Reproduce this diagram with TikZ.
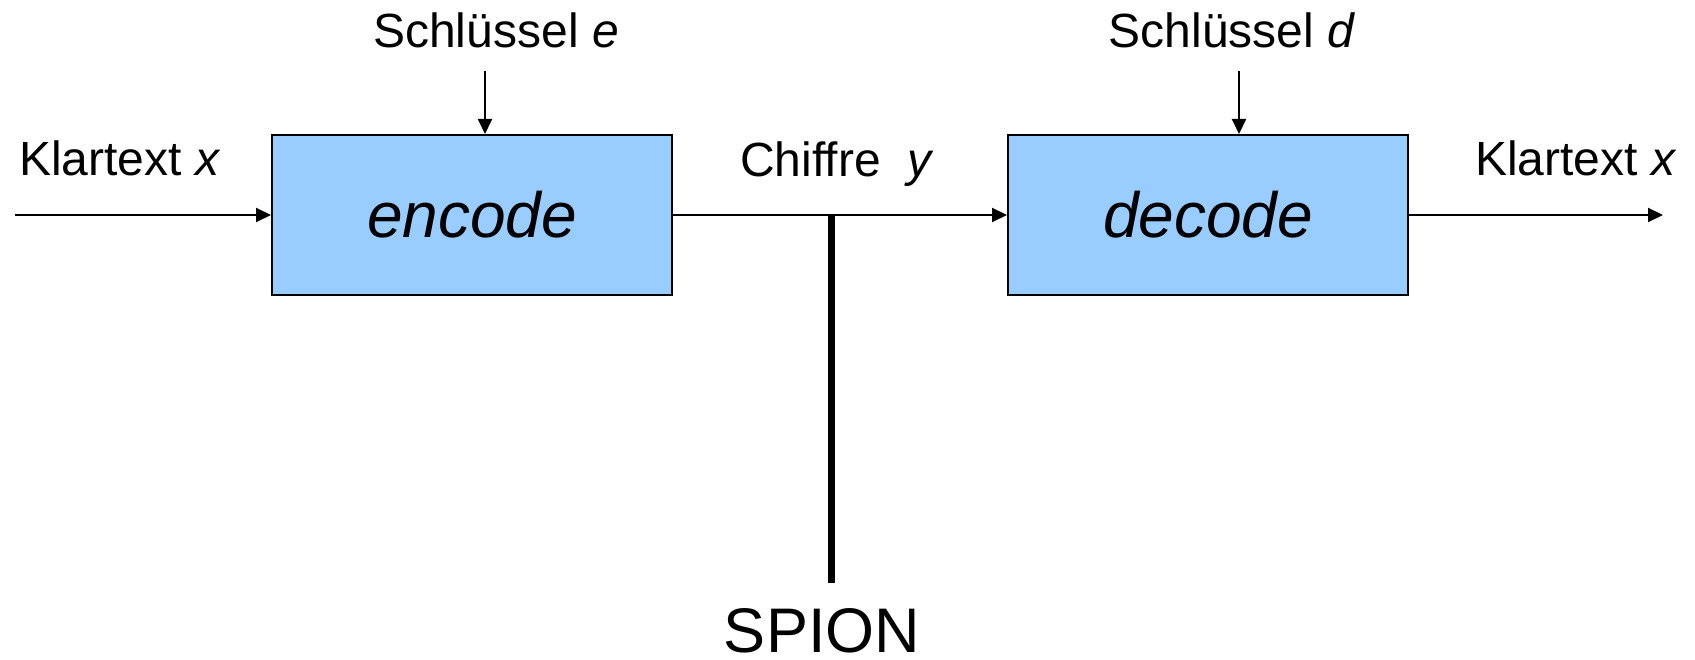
\documentclass[tikz,border=0pt]{standalone}
\usepackage{fontspec}
\setmainfont{Liberation Sans}
\usetikzlibrary{arrows.meta}
\definecolor{boxblue}{HTML}{99CCFF}
\tikzset{
    block/.style={draw, line width=2pt, fill=boxblue, inner sep=0pt,
        minimum width=400pt, minimum height=160pt,
        font=\fontsize{64}{76}\selectfont\itshape},
    tag/.style={inner sep=0pt, anchor=base, font=\fontsize{48}{57}\selectfont},
    bigtag/.style={tag, font=\fontsize{63}{75}\selectfont},
    flow/.style={line width=2pt, -{Triangle[length=15pt, width=14pt]}},
}

\begin{document}
\begin{tikzpicture}[x=1pt, y=-1pt]
    \def\liney{215}
    \def\keyy{71}
    \useasboundingbox (0,0) rectangle (1695,660);

    % the two boxes
    \node[block] (enc) at (472,\liney) {encode};
    \node[block] (dec) at (1208,\liney) {decode};

    % texts
    \node[tag] (plainin) at (120,176) {Klartext \textit{x}};
    \node[tag] (keye) at (496,48) {Schlüssel \textit{e}};
    \node[tag] (cipher) at (837,177) {Chiffre~~\textit{y}};
    \node[tag] (keyd) at (1232,48) {Schlüssel \textit{d}};
    \node[tag] (plainout) at (1576,176) {Klartext \textit{x}};
    \node[bigtag] (spy) at (822,652) {SPION};

    % free ends
    \coordinate (in) at (15,\liney);
    \coordinate (out) at (1663,\liney);
    \coordinate (etop) at (485,\keyy);
    \coordinate (dtop) at (1239,\keyy);
    \coordinate (tap) at (831,\liney);
    \coordinate (tapend) at (831,583);

    \draw[flow] (in) -- (enc);
    \draw[flow] (enc) -- (dec);
    \draw[flow] (dec) -- (out);
    \draw[flow] (etop) -- (etop |- enc.north);
    \draw[flow] (dtop) -- (dtop |- dec.north);
    \draw[line width=7pt] (tap) -- (tapend);
\end{tikzpicture}
\end{document}
